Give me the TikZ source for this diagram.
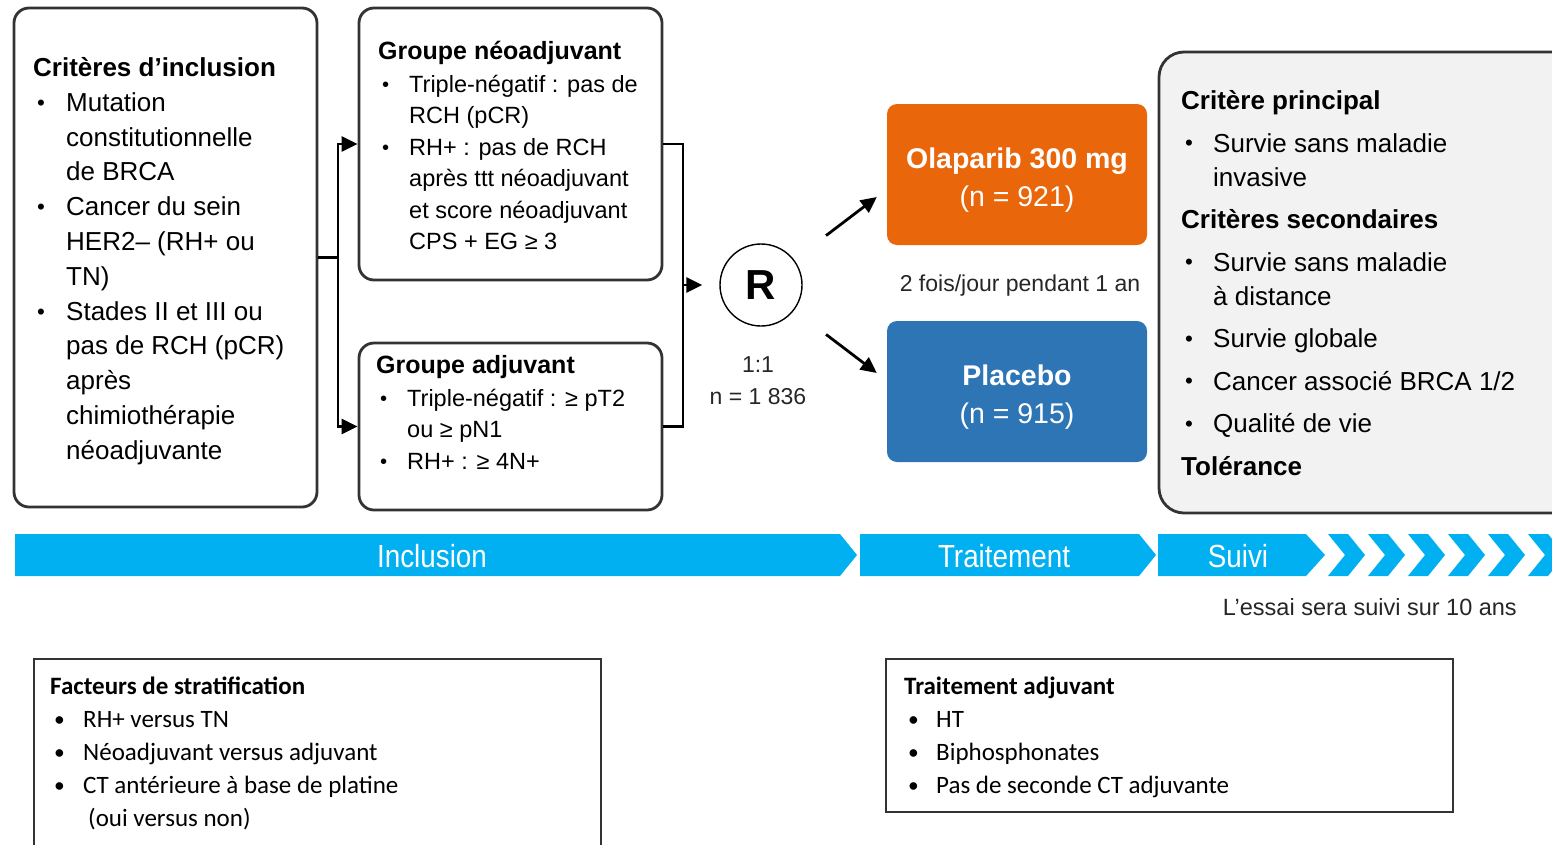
\documentclass[tikz,border=0pt]{standalone}
\usepackage{fontspec}
\setmainfont{Liberation Sans}
\newfontfamily\calibfont{Carlito}
\usepackage{graphicx}
\usetikzlibrary{positioning, arrows.meta, calc}

\definecolor{boxline}{HTML}{333333}
\definecolor{olapfill}{HTML}{EA660A}
\definecolor{placfill}{HTML}{2E75B6}
\definecolor{barfill}{HTML}{00B0F0}
\definecolor{endpfill}{HTML}{F2F2F2}

% bullets with hanging indent
\newlength{\bulind}
\newcommand{\bul}{\hspace*{4pt}\makebox[\dimexpr\bulind-4pt\relax][l]{\raisebox{0.04em}{\scalebox{0.86}{\textbullet}}}}
\newcommand{\cont}{\hspace*{\bulind}}
\newcommand{\narrowtxt}[1]{\scalebox{0.87}[1]{#1}}
\newcommand{\armstrut}{\rule{0pt}{31pt}}

\begin{document}
\begin{tikzpicture}[x=1pt, y=-1pt,
  % Box Styles
  critbox/.style={rectangle, rounded corners=15pt, draw=boxline, line width=2.8pt, fill=white, inner sep=0pt},
  armbox/.style={rectangle, rounded corners=10pt, minimum width=260pt, minimum height=141pt, align=center, text=white, inner sep=0pt, font=\fontsize{28.5}{38}\selectfont},
  endpbox/.style={rectangle, rounded corners=25pt, draw=boxline, line width=2.8pt, fill=endpfill, inner sep=0pt},
  notebox/.style={rectangle, draw=boxline, line width=1.4pt, inner sep=0pt},
  randnode/.style={circle, draw=black, line width=1.4pt, minimum size=82pt, inner sep=0pt, font=\fontsize{42}{46}\selectfont\bfseries},
  % Text Styles
  listtxt/.style={anchor=north west, align=left, inner sep=0pt},
  smalltxt/.style={align=center, inner sep=0pt, font=\fontsize{23}{32}\selectfont, text=black!85},
  bartxt/.style={inner sep=0pt, text=white, font=\fontsize{32}{36}\selectfont},
  % Arrow Styles
  link/.style={line width=2.8pt, black},
  linkarrow/.style={link, -{Triangle[length=16pt, width=15pt]}}
]
\useasboundingbox (0,0) rectangle (1552,844);

% Inclusion side
\node[critbox, minimum width=303pt, minimum height=499pt] (incl) at (165.5,257.5) {};
\node[listtxt, font=\setlength{\bulind}{33pt}\fontsize{26}{34.8}\selectfont] (incl-t) at (33,52)
  {\strut\textbf{Critères d’inclusion}\\
   \bul Mutation\\
   \cont constitutionnelle\\
   \cont de BRCA\\
   \bul Cancer du sein\\
   \cont HER2– (RH+ ou\\
   \cont TN)\\
   \bul Stades II et III ou\\
   \cont pas de RCH (pCR)\\
   \cont après\\
   \cont chimiothérapie\\
   \cont néoadjuvante};

\node[critbox, minimum width=303pt, minimum height=272pt] (neo) at (510.5,144) {};
\node[listtxt, font=\setlength{\bulind}{31pt}\fontsize{23.5}{31.5}\selectfont] (neo-t) at (378,37)
  {{\fontsize{25}{31.5}\selectfont\bfseries\strut Groupe néoadjuvant}\\[1.5pt]
   \bul Triple-négatif : pas de\\
   \cont RCH (pCR)\\
   \bul RH+ : pas de RCH\\
   \cont après ttt néoadjuvant\\
   \cont et score néoadjuvant\\
   \cont CPS + EG ≥ 3};

\node[critbox, minimum width=303pt, minimum height=167pt] (adj) at (510.5,426.5) {};
\node[listtxt, font=\setlength{\bulind}{31pt}\fontsize{23.5}{31.5}\selectfont] (adj-t) at (376,351)
  {{\fontsize{25}{31.5}\selectfont\bfseries\strut Groupe adjuvant}\\[1.5pt]
   \bul Triple-négatif : ≥ pT2\\
   \cont ou ≥ pN1\\
   \bul RH+ : ≥ 4N+};

% Randomisation and arms
\node[randnode] (R) at (761,285) {R};
\node[smalltxt] (ratio) at (758,381) {1:1\\n = 1 836};
\node[armbox, fill=olapfill] (olap) at (1017,174.5) {\armstrut\textbf{Olaparib 300 mg}\\(n = 921)};
\node[armbox, fill=placfill] (plac) at (1017,391.5) {\armstrut\textbf{Placebo}\\(n = 915)};
\node[smalltxt] (dose) at (1020,286) {2 fois/jour pendant 1 an};

\coordinate (split) at (338,257.5);
\draw[link] (incl.east) -- (split);
\draw[linkarrow] (split) |- (neo.west);
\draw[linkarrow] (split) |- (adj.west);
\coordinate (join) at (683,285);
\draw[link] (neo.east) -| (join) |- (adj.east);
\draw[linkarrow, shorten >=17pt] (join) -- (R);
\draw[linkarrow, shorten <=40pt] (R) -- ([xshift=-10pt, yshift=-22.5pt]olap.west);
\draw[linkarrow, shorten <=40pt] (R) -- ([xshift=-10pt, yshift=18.5pt]plac.west);

% Endpoints
\node[endpbox, minimum width=420pt, minimum height=461pt] (endp) at (1369,282.5) {};
\node[listtxt, font=\setlength{\bulind}{32pt}\fontsize{26}{34}\selectfont] (endp-t) at (1181,85.5)
  {\strut\textbf{Critère principal}\\[8.5pt]
   \bul Survie sans maladie\\
   \cont invasive\\[8.5pt]
   \textbf{Critères secondaires}\\[8.5pt]
   \bul Survie sans maladie\\
   \cont à distance\\[8.5pt]
   \bul Survie globale\\[8.5pt]
   \bul Cancer associé BRCA 1/2\\[8.5pt]
   \bul Qualité de vie\\[8.5pt]
   \textbf{Tolérance}};

% Timeline bar
\fill[barfill] (15,534) -- (840,534) -- (857,555) -- (840,576) -- (15,576) -- cycle;
\fill[barfill] (860,534) -- (1139,534) -- (1156,555) -- (1139,576) -- (860,576) -- cycle;
\fill[barfill] (1158,534) -- (1306,534) -- (1325,555) -- (1306,576) -- (1158,576) -- cycle;
\foreach \cx in {1328,1368,...,1528}
  \fill[barfill] (\cx,534) -- ++(20,0) -- ++(17,21) -- ++(-17,21) -- ++(-20,0) -- ++(17,-21) -- cycle;
\node[bartxt] (bar-incl) at (432,556) {\narrowtxt{Inclusion}};
\node[bartxt] (bar-trt) at (1004,556) {\narrowtxt{Traitement}};
\node[bartxt] (bar-fu) at (1238,556) {\narrowtxt{Suivi}};
\node[smalltxt, anchor=east, font=\fontsize{23.5}{32}\selectfont] (fu-note) at (1517,607) {L’essai sera suivi sur 10 ans};

% Notes
\node[notebox, minimum width=567pt, minimum height=201pt] (strat) at (317.5,759.5) {};
\node[listtxt, font=\calibfont\setlength{\bulind}{33pt}\fontsize{25}{33}\selectfont] (strat-t) at (50,671.6)
  {\strut\textbf{Facteurs de stratification}\\
   \bul RH+ versus TN\\
   \bul Néoadjuvant versus adjuvant\\
   \bul CT antérieure à base de platine\\
   \cont\hspace*{5pt}(oui versus non)};

\node[notebox, minimum width=567pt, minimum height=153pt] (adjt) at (1169.5,735.5) {};
\node[listtxt, font=\calibfont\setlength{\bulind}{32pt}\fontsize{25}{33}\selectfont] (adjt-t) at (904,671.6)
  {\strut\textbf{Traitement adjuvant}\\
   \bul HT\\
   \bul Biphosphonates\\
   \bul Pas de seconde CT adjuvante};

\end{tikzpicture}
\end{document}
